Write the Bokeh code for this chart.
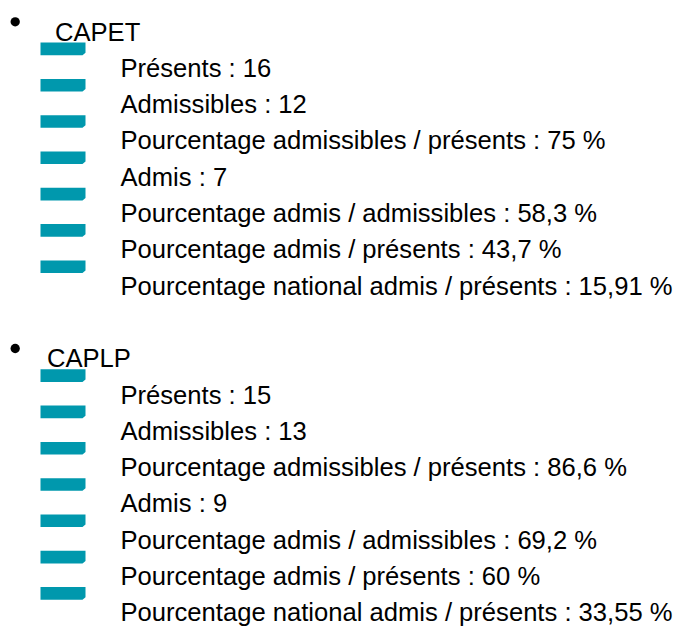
from bokeh.plotting import figure
from bokeh.models import Range1d
from bokeh.core.properties import value
from bokeh.embed import file_html
from bokeh.resources import INLINE

# ---- data ----
sections = ["CAPET", "CAPLP"]
item_labels = [
    "Présents",
    "Admissibles",
    "Pourcentage admissibles / présents",
    "Admis",
    "Pourcentage admis / admissibles",
    "Pourcentage admis / présents",
    "Pourcentage national admis / présents",
]
is_percent = [False, False, True, False, True, True, True]
capet_values = [16, 12, 75, 7, 58.3, 43.7, 15.91]
caplp_values = [15, 13, 86.6, 9, 69.2, 60, 33.55]
section_values = [capet_values, caplp_values]

# ---- layout ----
W, H = 684, 626
FONT = "Liberation Sans"
FS = "25.6px"
PITCH = 36.3
TOP = 31
heading_x = [54.5, 46.5]
bullet_x = 14.7
bullet_dy = 9.7
bullet_size = 9.3
dash_x0, dash_x1 = 40, 85
dash_top, dash_bot = 25.2, 12.6
item_x = 120
DASH_COLOR = "#0098AD"


def fmt(v, pct):
    s = f"{v:g}".replace(".", ",")
    return s + (" %" if pct else "")


p = figure(width=W, height=H, output_backend="svg", toolbar_location=None,
           x_range=Range1d(0, W), y_range=Range1d(H, 0), min_border=0)
p.axis.visible = False
p.grid.visible = False
p.outline_line_color = None
p.background_fill_color = "white"
p.border_fill_color = "white"

hx, hy, htxt, bx, by = [], [], [], [], []
tx, ty, ttxt = [], [], []
dxs, dys = [], []
line = 0
for si, name in enumerate(sections):
    base = TOP + PITCH * line
    hx.append(heading_x[si]); hy.append(base); htxt.append(name)
    bx.append(bullet_x); by.append(base - bullet_dy)
    line += 1
    for lab, v, pc in zip(item_labels, section_values[si], is_percent):
        b = TOP + PITCH * line
        tx.append(item_x); ty.append(b); ttxt.append(f"{lab} : {fmt(v, pc)}")
        top, bot = b - dash_top, b - dash_bot
        dxs.append([dash_x0, dash_x1, dash_x1, dash_x1 - 3, dash_x0])
        dys.append([top, top, bot - 2.5, bot, bot])
        line += 1
    line += 1  # blank line between sections

p.text(x=hx, y=hy, text=htxt, text_font=value(FONT), text_font_size=FS,
       text_baseline="alphabetic", text_align="left", text_color="black")
p.scatter(x=bx, y=by, size=bullet_size, marker="circle", fill_color="black", line_color=None)
p.patches(xs=dxs, ys=dys, fill_color=DASH_COLOR, line_color=None)
p.text(x=tx, y=ty, text=ttxt, text_font=value(FONT), text_font_size=FS,
       text_baseline="alphabetic", text_align="left", text_color="black")

open("out.html", "w").write(file_html(p, INLINE))
